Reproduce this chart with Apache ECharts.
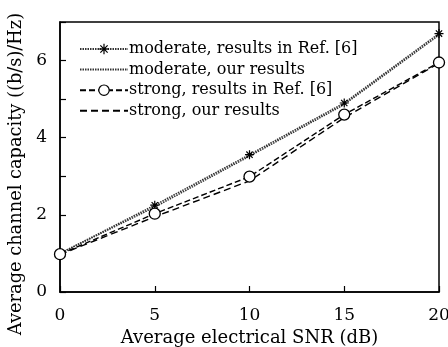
<!DOCTYPE html>
<html><head><meta charset="utf-8">
<script src="https://cdn.jsdelivr.net/npm/echarts@6/dist/echarts.min.js"></script>
<style>html,body{margin:0;padding:0;background:#fff}#c{width:448px;height:347px}</style>
</head><body><div id="c"></div>
<script>
const snr = [0, 5, 10, 15, 20];
const moderateRef = [1.0, 2.25, 3.56, 4.90, 6.70];
const moderateOurs = [1.0, 2.2, 3.52, 4.86, 6.66];
const strongRef = [0.98, 2.03, 2.99, 4.60, 5.95];
const strongOurs = [0.97, 1.95, 2.88, 4.52, 5.93];
const seriesNames = ['moderate, results in Ref. [6]', 'moderate, our results', 'strong, results in Ref. [6]', 'strong, our results'];
const xTicks = [0, 5, 10, 15, 20];
const yLabels = [0, 2, 4, 6];

const font = 'DejaVu Serif';
const star = 'path://M0,5L10,5M5,0L5,10M1.5,1.5L8.5,8.5M8.5,1.5L1.5,8.5';
const blank = 'path://M0,0L10,10';
const pts = a => snr.map((x, i) => [x, a[i]]);
const chart = echarts.init(document.getElementById('c'), null, {renderer: 'canvas'});
chart.setOption({
  animation: false,
  grid: {left: 60, right: 9, top: 22, bottom: 55, show: true, borderColor: '#000', borderWidth: 1.5,
    outerBoundsMode: 'none', containLabel: false},
  legend: {
    left: 74, top: 36, orient: 'vertical', itemGap: 4.6, itemWidth: 48, itemHeight: 13,
    textStyle: {fontFamily: font, fontSize: 16, color: '#000', padding: [0, 0, 0, -4]},
    data: [
      {name: seriesNames[0], itemStyle: {color: '#000', borderColor: '#000', borderWidth: 1.2}},
      {name: seriesNames[1], itemStyle: {color: 'rgba(0,0,0,0)', borderWidth: 0}},
      {name: seriesNames[2], itemStyle: {color: '#fff', borderColor: '#000', borderWidth: 1.2}},
      {name: seriesNames[3], itemStyle: {color: 'rgba(0,0,0,0)', borderWidth: 0}}
    ]
  },
  xAxis: {
    type: 'value', min: 0, max: 20, interval: 5,
    axisLine: {lineStyle: {color: '#000', width: 1.5}},
    axisTick: {inside: true, length: 6, lineStyle: {color: '#000', width: 1.2}},
    splitLine: {show: false},
    axisLabel: {color: '#000', fontFamily: font, fontSize: 17, margin: 15,
      formatter: v => xTicks.includes(v) ? String(v) : ''},
    name: 'Average electrical SNR (dB)', nameLocation: 'middle', nameGap: 27,
    nameTextStyle: {color: '#000', fontFamily: font, fontSize: 18}
  },
  yAxis: {
    type: 'value', min: 0, max: 7, interval: 1,
    axisLine: {show: true, lineStyle: {color: '#000', width: 1.5}},
    axisTick: {show: true, inside: true, length: 6, lineStyle: {color: '#000', width: 1.2}},
    splitLine: {show: false},
    axisLabel: {color: '#000', fontFamily: font, fontSize: 17, margin: 13,
      formatter: v => yLabels.includes(v) ? String(v) : ''},
    name: 'Average channel capacity ((b/s)/Hz)', nameLocation: 'middle', nameGap: 23,
    nameTextStyle: {color: '#000', fontFamily: font, fontSize: 17.8, padding: [0, 34, 0, 0]}
  },
  series: [
    {name: seriesNames[0], type: 'line', data: pts(moderateRef), symbol: star, symbolSize: 9,
      itemStyle: {color: '#000', borderColor: '#000', borderWidth: 1.2},
      lineStyle: {color: '#333', width: 1.6, type: [1.5, 1]}},
    {name: seriesNames[1], type: 'line', data: pts(moderateOurs), symbol: blank, showSymbol: false,
      itemStyle: {color: 'rgba(0,0,0,0)', borderWidth: 0},
      lineStyle: {color: '#333', width: 1.4, type: [1.5, 1]}},
    {name: seriesNames[2], type: 'line', data: pts(strongRef), symbol: 'circle', symbolSize: 11,
      itemStyle: {color: '#fff', borderColor: '#000', borderWidth: 1.3},
      lineStyle: {color: '#000', width: 1.4, type: [6, 3]}},
    {name: seriesNames[3], type: 'line', data: pts(strongOurs), symbol: blank, showSymbol: false,
      itemStyle: {color: 'rgba(0,0,0,0)', borderWidth: 0},
      lineStyle: {color: '#000', width: 1.4, type: [7, 4]}}
  ]
});
</script></body></html>
